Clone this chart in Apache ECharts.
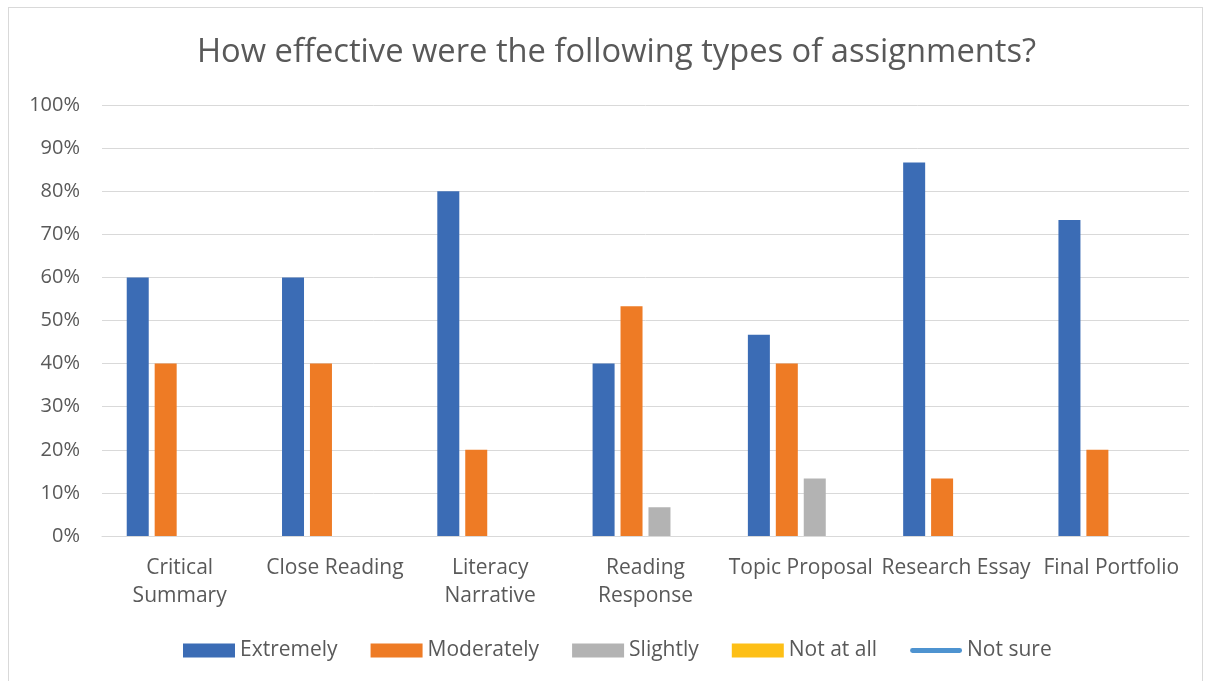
<!DOCTYPE html>
<html>
<head>
<meta charset="utf-8">
<script src="https://cdn.jsdelivr.net/npm/echarts@6/dist/echarts.min.js"></script>
<style>
html,body{margin:0;padding:0;background:#fff;}
#frame{position:absolute;left:8px;top:7px;width:1195px;height:690px;border:1px solid #d9d9d9;box-sizing:border-box;}
#chart{position:absolute;left:0;top:0;width:1207px;height:681px;}
</style>
</head>
<body>
<div id="frame"></div>
<div id="chart"></div>
<script>
var categories = ['Critical\nSummary', 'Close Reading', 'Literacy\nNarrative', 'Reading\nResponse', 'Topic Proposal', 'Research Essay', 'Final Portfolio'];
var extremely = [60, 60, 80, 40, 46.67, 86.67, 73.33];
var moderately = [40, 40, 20, 53.33, 40, 13.33, 20];
var slightly = [0, 0, 0, 6.67, 13.33, 0, 0];
var notAtAll = [0, 0, 0, 0, 0, 0, 0];
var notSure = [];

var chart = echarts.init(document.getElementById('chart'));
var font = 'Open Sans';
var option = {
    title: {
        text: 'How effective were the following types of assignments?',
        left: 192,
        top: 31,
        textStyle: {fontFamily: font, fontSize: 32.7, fontWeight: 'normal', color: '#595959'}
    },
    legend: {
        bottom: 15,
        left: 178,
        itemWidth: 52,
        itemHeight: 14,
        itemGap: 33,
        textStyle: {fontFamily: font, fontSize: 21, color: '#595959'},
        data: [
            {name: 'Extremely', icon: 'rect'},
            {name: 'Moderately', icon: 'rect'},
            {name: 'Slightly', icon: 'rect'},
            {name: 'Not at all', icon: 'rect'},
            {name: 'Not sure', icon: 'path://M2.5,0 H51.5 A2.5,2.5 0 0 1 51.5,5 H2.5 A2.5,2.5 0 0 1 2.5,0 Z'}
        ]
    },
    grid: {left: 102, right: 18, top: 105, bottom: 145},
    xAxis: {
        type: 'category',
        data: categories,
        axisLine: {lineStyle: {color: '#d9d9d9', width: 1}},
        axisTick: {show: false},
        axisLabel: {fontFamily: font, fontSize: 21, color: '#595959', lineHeight: 28, margin: 18, interval: 0}
    },
    yAxis: {
        type: 'value',
        min: 0,
        max: 100,
        interval: 10,
        axisLine: {show: false},
        axisTick: {show: false},
        axisLabel: {fontFamily: font, fontSize: 20, color: '#595959', margin: 22, formatter: '{value}%'},
        splitLine: {lineStyle: {color: '#d9d9d9', width: 1}}
    },
    series: [
        {name: 'Extremely', type: 'bar', data: extremely, barWidth: 22, barGap: '27%', itemStyle: {color: '#3b6cb5'}},
        {name: 'Moderately', type: 'bar', data: moderately, barWidth: 22, barGap: '27%', itemStyle: {color: '#ee7b25'}},
        {name: 'Slightly', type: 'bar', data: slightly, barWidth: 22, barGap: '27%', itemStyle: {color: '#b3b3b3'}},
        {name: 'Not at all', type: 'bar', data: notAtAll, barWidth: 22, barGap: '27%', itemStyle: {color: '#fdbf16'}},
        {name: 'Not sure', type: 'line', data: notSure, symbol: 'none', itemStyle: {color: '#4e93d0'}, lineStyle: {color: '#4e93d0'}}
    ]
};
chart.setOption(option);
</script>
</body>
</html>
